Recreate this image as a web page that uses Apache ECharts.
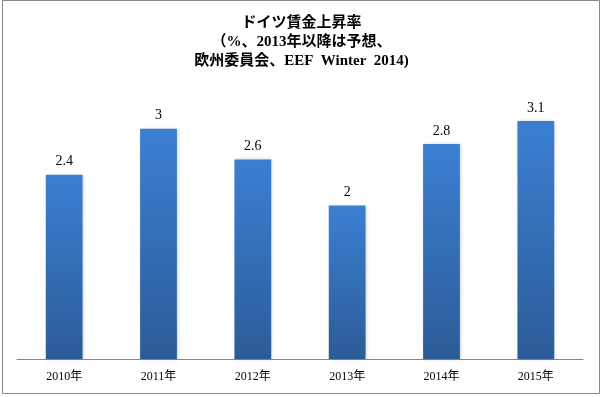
<!DOCTYPE html>
<html>
<head>
<meta charset="utf-8">
<script src="https://cdn.jsdelivr.net/npm/echarts@6/dist/echarts.min.js"></script>
<style>
  html, body { margin: 0; padding: 0; background: #fff; }
  #chart { width: 603px; height: 397px; }
</style>
</head>
<body>
<div id="chart"></div>
<script>
// データ
const years = ['2010年', '2011年', '2012年', '2013年', '2014年', '2015年']
const wageGrowth = [2.4, 3, 2.6, 2, 2.8, 3.1]
const titleLines = ['ドイツ賃金上昇率', '（%、2013年以降は予想、', '欧州委員会、EEF  Winter  2014)']

const serif = "'Liberation Serif', 'DejaVu Serif', 'Noto Sans CJK JP', serif"

const chart = echarts.init(document.getElementById('chart'))

chart.setOption({
  animation: false,
  title: {
    text: titleLines.join('\n'),
    left: 'center',
    top: 9,
    textStyle: {
      fontFamily: serif,
      fontSize: 15,
      fontWeight: 'bold',
      color: '#000',
      lineHeight: 19
    }
  },
  graphic: [
    {
      type: 'rect',
      shape: { x: 2.5, y: 0.5, width: 597, height: 393 },
      style: { fill: 'none', stroke: '#878787', lineWidth: 1 },
      silent: true
    }
  ],
  grid: {
    left: 17,
    right: 20,
    top: 52,
    bottom: 38
  },
  xAxis: {
    type: 'category',
    data: years,
    axisLine: { lineStyle: { color: '#878787', width: 1 } },
    axisTick: { show: false },
    axisLabel: {
      fontFamily: serif,
      fontSize: 12,
      color: '#000',
      margin: 12
    }
  },
  yAxis: {
    type: 'value',
    min: 0,
    max: 4,
    show: false,
    splitLine: { show: false }
  },
  series: [
    {
      type: 'bar',
      data: wageGrowth,
      barWidth: '39%',
      itemStyle: {
        color: new echarts.graphic.LinearGradient(0, 0, 0, 1, [
          { offset: 0, color: '#3b7fd2' },
          { offset: 1, color: '#2c5c98' }
        ]),
        shadowColor: 'rgba(0,0,0,0.18)',
        shadowBlur: 3,
        shadowOffsetX: 1
      },
      label: {
        show: true,
        position: 'top',
        distance: 6,
        fontFamily: serif,
        fontSize: 14,
        color: '#000'
      }
    }
  ]
})
</script>
</body>
</html>
